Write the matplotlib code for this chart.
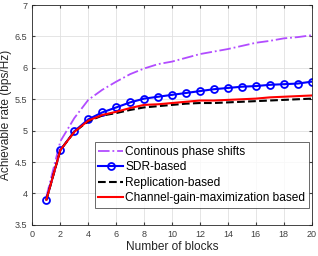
import matplotlib
matplotlib.use('Agg')
import matplotlib.pyplot as plt

plt.rcParams['font.family'] = ['Liberation Sans', 'DejaVu Sans']

blocks = list(range(1, 21))
continuous = [3.95, 4.83, 5.20, 5.49, 5.65, 5.78, 5.90, 5.99, 6.06, 6.10,
              6.16, 6.22, 6.26, 6.30, 6.35, 6.40, 6.43, 6.47, 6.49, 6.52]
sdr = [3.90, 4.69, 4.99, 5.18, 5.29, 5.37, 5.45, 5.51, 5.54, 5.57,
       5.60, 5.63, 5.66, 5.68, 5.70, 5.71, 5.73, 5.74, 5.75, 5.78]
replication = [3.90, 4.69, 4.98, 5.15, 5.24, 5.28, 5.33, 5.37, 5.39, 5.41,
               5.43, 5.44, 5.44, 5.45, 5.46, 5.47, 5.48, 5.49, 5.50, 5.51]
gain_max = [3.90, 4.69, 4.98, 5.16, 5.25, 5.30, 5.36, 5.41, 5.42, 5.44,
            5.46, 5.48, 5.48, 5.49, 5.50, 5.51, 5.53, 5.54, 5.55, 5.56]

fig = plt.figure(figsize=(3.18, 2.56), dpi=100)
ax = fig.add_axes([0.102, 0.122, 0.878, 0.858])

ax.plot(blocks, continuous, color='#b24cff', linestyle='-.', linewidth=1.3,
        label='Continous phase shifts')
ax.plot(blocks, sdr, color='#0000ff', linewidth=1.5, marker='o', markersize=5,
        markerfacecolor='none', markeredgewidth=1.3, label='SDR-based')
ax.plot(blocks, replication, color='black', linestyle='--', linewidth=1.5,
        label='Replication-based')
ax.plot(blocks, gain_max, color='#ff0000', linewidth=1.5,
        label='Channel-gain-maximization based')

ax.set_xlim(0, 20)
ax.set_ylim(3.5, 7)
ax.set_xticks(range(0, 21, 2))
ax.set_yticks([3.5, 4, 4.5, 5, 5.5, 6, 6.5, 7])
ax.set_yticklabels(['3.5', '4', '4.5', '5', '5.5', '6', '6.5', '7'])
ax.tick_params(direction='in', labelsize=6.5, colors='#404040', length=2.5,
               top=True, right=True)
ax.grid(True, color='#e0e0e0', linewidth=0.6)
ax.set_axisbelow(True)
for s in ax.spines.values():
    s.set_color('#262626')
    s.set_linewidth(0.6)

ax.set_xlabel('Number of blocks', fontsize=8.6, color='#262626', labelpad=2)
ax.set_ylabel('Achievable rate (bps/Hz)', fontsize=8.6, color='#262626', labelpad=2)

leg = ax.legend(loc='lower right', bbox_to_anchor=(0.99, 0.076), fontsize=8.6,
                frameon=True, fancybox=False, edgecolor='#262626',
                borderpad=0.3, labelspacing=0.3, handlelength=2.1,
                handletextpad=0.15, borderaxespad=0)
leg.get_frame().set_linewidth(0.6)

fig.savefig('out.png', dpi=100)
plt.close(fig)
